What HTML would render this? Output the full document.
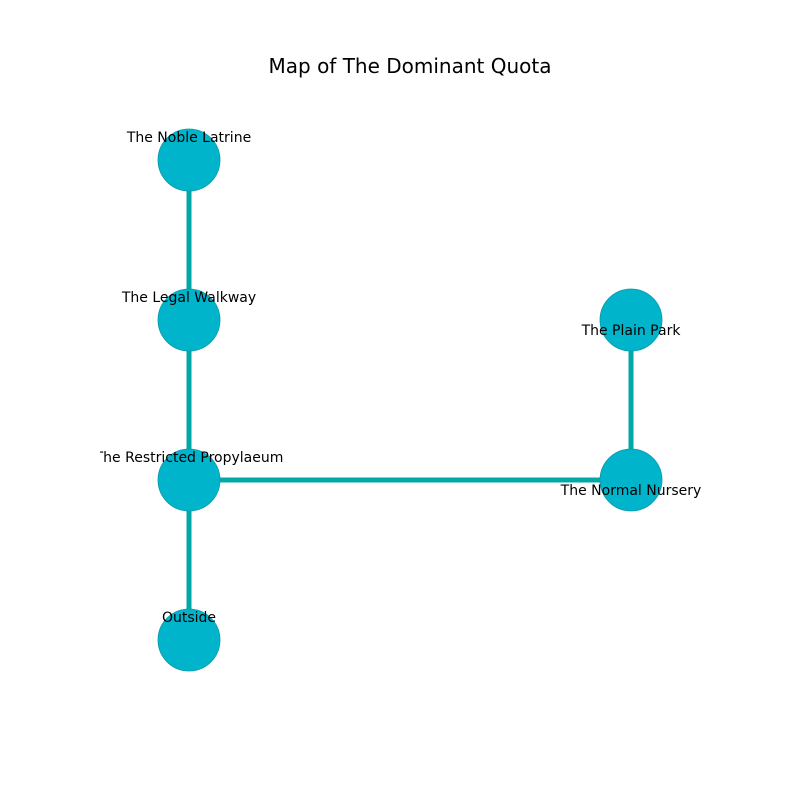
<!DOCTYPE html>
<html><head><style>body{margin:0;background:#fff}</style></head><body>
<svg width="800" height="800" xmlns="http://www.w3.org/2000/svg" font-family="DejaVu Sans, sans-serif">
<defs><clipPath id="c"><rect x="100" y="96" width="620" height="608"/></clipPath></defs>
<rect width="800" height="800" fill="#fff"/>
<text x="410" y="73" font-size="20" text-anchor="middle" fill="#000">Map of The Dominant Quota</text>
<g stroke="#00a8a8" stroke-width="5">
<line x1="189" y1="160" x2="189" y2="640"/>
<line x1="189" y1="480" x2="631" y2="480"/>
<line x1="631" y1="320" x2="631" y2="480"/>
</g>
<g fill="#00b4cc" stroke="#0a9aaa" stroke-width="0.8">
<circle cx="189" cy="160" r="31"/>
<circle cx="189" cy="320" r="31"/>
<circle cx="189" cy="480" r="31"/>
<circle cx="189" cy="640" r="31"/>
<circle cx="631" cy="320" r="31"/>
<circle cx="631" cy="480" r="31"/>
</g>
<g font-size="14" text-anchor="middle" fill="#000" clip-path="url(#c)">
<text x="189" y="142">The Noble Latrine</text>
<text x="189" y="302">The Legal Walkway</text>
<text x="189" y="462">The Restricted Propylaeum</text>
<text x="189" y="622">Outside</text>
<text x="631" y="335">The Plain Park</text>
<text x="631" y="495">The Normal Nursery</text>
</g>
</svg>
</body></html>
